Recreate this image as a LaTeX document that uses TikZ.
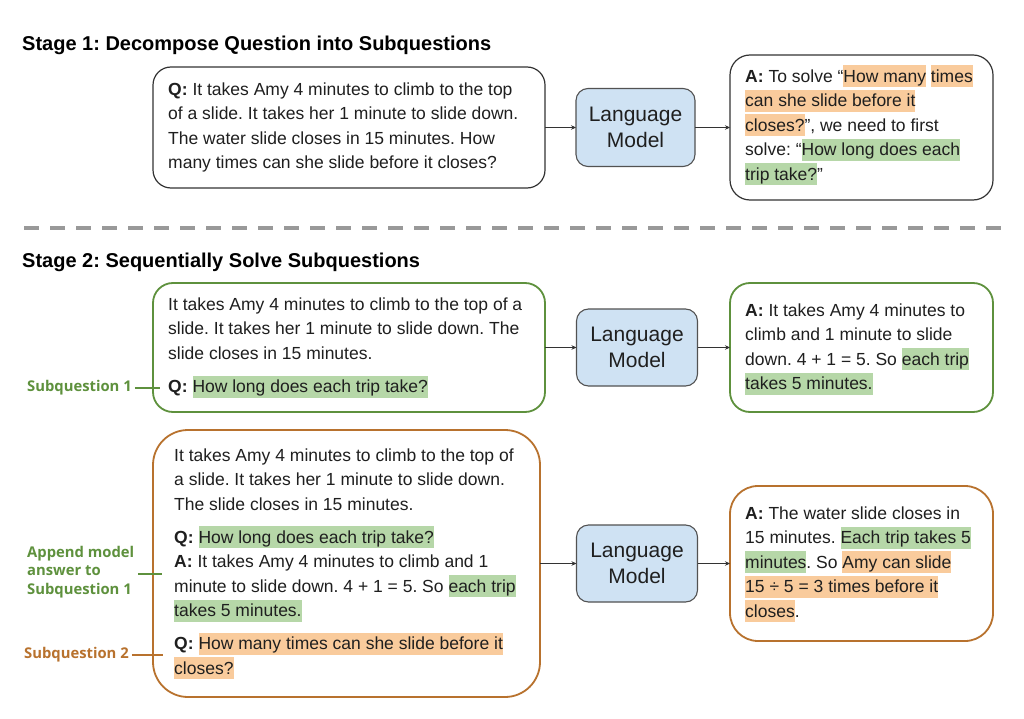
\documentclass[tikz,border=0pt]{standalone}
\usepackage{fontspec}
\setmainfont{Liberation Sans}
\newfontfamily\labfont{Open Sans}
\usetikzlibrary{arrows.meta}
\definecolor{hlgreen}{HTML}{B6D7A8}
\definecolor{hlorange}{HTML}{F9CB9C}
\definecolor{lmblue}{HTML}{CFE2F3}
\definecolor{grn}{HTML}{5E913D}
\definecolor{org}{HTML}{B8722E}
\definecolor{ink}{HTML}{1F1F1F}
\definecolor{edge}{HTML}{333333}
\frenchspacing
\newcommand\hstr{\rule[-5pt]{0pt}{22pt}}
\newcommand\hlg[1]{{\setlength{\fboxsep}{0pt}\colorbox{hlgreen}{\hstr#1}}}
\newcommand\hlo[1]{{\setlength{\fboxsep}{0pt}\colorbox{hlorange}{\hstr#1}}}
\tikzset{
  box/.style={draw=edge, line width=1.2pt, rounded corners=18pt, inner sep=0, outer sep=0},
  gbox/.style={box, draw=grn, line width=1.8pt},
  obox/.style={box, draw=org, line width=1.8pt},
  lmbox/.style={draw=edge!85, fill=lmblue, line width=1.1pt, rounded corners=12pt,
    minimum width=121pt, minimum height=77pt, inner sep=0, outer sep=0, align=center,
    text=ink, font=\fontsize{21}{25.5}\selectfont},
  txt/.style={anchor=north west, inner sep=0, align=left, text=ink,
    font=\fontsize{17.5}{24.5}\selectfont},
  title/.style={anchor=base west, inner sep=0, font=\fontsize{20}{24}\selectfont\bfseries, text=black},
  lab/.style={anchor=west, inner sep=3pt, align=left, font=\labfont\fontsize{14.8}{18.5}\selectfont\bfseries},
  arr/.style={-{Stealth[length=5pt,width=4.5pt]}, line width=1pt, draw=edge},
}
\begin{document}
\begin{tikzpicture}[x=1pt, y=-1pt]
\fill[white] (0,0) rectangle (1024,719);
\useasboundingbox (0,0) rectangle (1024,719);

% Stage 1
\node[title] (t1) at (22,51) {Stage 1: Decompose Question into Subquestions};
\node[box, minimum width=392pt, minimum height=121pt] (q1) at (349,127.5) {};
\node[txt] (q1t) at (168,78) {\hstr\textbf{Q:} It takes Amy 4 minutes to climb to the top\\
\hstr of a slide. It takes her 1 minute to slide down.\\
\hstr The water slide closes in 15 minutes. How\\
\hstr many times can she slide before it closes?};
\node[lmbox, minimum width=119pt, minimum height=78pt] (lm1) at (635.5,127.5) {Language\\Model};
\node[box, rounded corners=20pt, minimum width=263pt, minimum height=145pt] (a1) at (861.5,127.5) {};
\node[txt] (a1t) at (745,65) {\hstr\textbf{A:} To solve “\hlo{How many} \hlo{times}\\
\hstr\hlo{can she slide before it}\\
\hstr\hlo{closes?}”, we need to first\\
\hstr solve: “\hlg{How long does each}\\
\hstr\hlg{trip take?}”};
\draw[arr] (q1) -- (lm1);
\draw[arr] (lm1) -- (a1);

% separator
\draw[dash pattern=on 15pt off 11pt, line width=3.5pt, draw=black!40] (24,228) -- (1002,228);

% Stage 2
\node[title] (t2) at (22,267) {Stage 2: Sequentially Solve Subquestions};

\node[gbox, rounded corners=20pt, minimum width=392pt, minimum height=129pt] (q2) at (349,347.5) {};
\node[txt] (q2t) at (168,293) {\hstr It takes Amy 4 minutes to climb to the top of a\\
\hstr slide. It takes her 1 minute to slide down. The\\
\hstr slide closes in 15 minutes.\\[9pt]
\hstr\textbf{Q:} \hlg{How long does each trip take?}};
\node[lmbox] (lm2) at (637,347.5) {Language\\Model};
\node[gbox, rounded corners=20pt, minimum width=263pt, minimum height=129pt] (a2) at (861.5,347.5) {};
\node[txt] (a2t) at (745,299) {\hstr\textbf{A:} It takes Amy 4 minutes to\\
\hstr climb and 1 minute to slide\\
\hstr down. 4 + 1 = 5. So \hlg{each trip}\\
\hstr\hlg{takes 5 minutes.}};
\draw[arr] (q2) -- (lm2);
\draw[arr] (lm2) -- (a2);

\node[obox, rounded corners=35pt, minimum width=387pt, minimum height=267pt] (q3) at (346.5,563.5) {};
\node[txt] (q3t) at (174,444) {\hstr It takes Amy 4 minutes to climb to the top of\\
\hstr a slide. It takes her 1 minute to slide down.\\
\hstr The slide closes in 15 minutes.\\[8.5pt]
\hstr\textbf{Q:} \hlg{How long does each trip take?}\\
\hstr\textbf{A:} It takes Amy 4 minutes to climb and 1\\
\hstr minute to slide down. 4 + 1 = 5. So \hlg{each trip}\\
\hstr\hlg{takes 5 minutes.}\\[8.5pt]
\hstr\textbf{Q:} \hlo{How many times can she slide before it}\\
\hstr\hlo{closes?}};
\node[lmbox] (lm3) at (637,563.5) {Language\\Model};
\node[obox, rounded corners=28pt, minimum width=263pt, minimum height=155pt] (a3) at (861.5,563.5) {};
\node[txt] (a3t) at (745,502) {\hstr\textbf{A:} The water slide closes in\\
\hstr 15 minutes. \hlg{Each trip takes 5}\\
\hstr\hlg{minutes}. So \hlo{Amy can slide}\\
\hstr\hlo{15 ÷ 5 = 3 times before it}\\
\hstr\hlo{closes}.};
\draw[arr] (q3) -- (lm3);
\draw[arr] (lm3) -- (a3);

% side labels
\node[lab, text=grn] (l1) at (24,388) {Subquestion 1};
\coordinate (l1e) at (160,388);
\draw[grn, line width=1.3pt] (l1.east) -- (l1e);

\node[lab, text=grn] (l2) at (24,572) {Append model\\answer to\\Subquestion 1};
\coordinate (l2s) at (138,574);
\coordinate (l2e) at (162,574);
\draw[grn, line width=1.3pt] (l2s) -- (l2e);

\node[lab, text=org] (l3) at (21,655) {Subquestion 2};
\coordinate (l3e) at (163,655);
\draw[org, line width=1.3pt] (l3.east) -- (l3e);
\end{tikzpicture}
\end{document}
